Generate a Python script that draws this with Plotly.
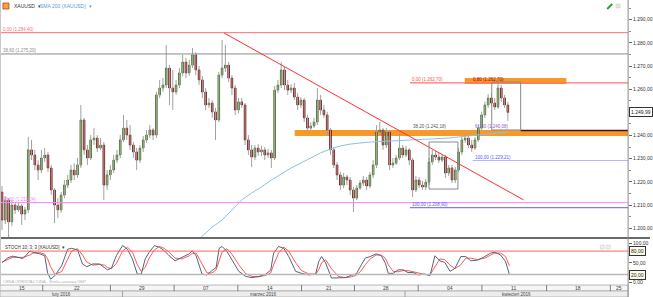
import plotly.graph_objects as go

W, H = 653, 297
PLOT_R = 631  # px, right edge of plotting area

def PX(x):
    return x / W

def PY(y):
    return 1 - y / H

# ---------------- DATA ----------------
first_open = 1215.6
closes = [
    1203.5, 1212.2, 1202.7, 1210.0, 1207.9, 1209.6, 1206.1, 1207.9, 1233.8, 1231.6,
    1227.3, 1225.1, 1230.3, 1231.6, 1226.0, 1216.5, 1210.0, 1207.9, 1214.3, 1218.6,
    1220.8, 1225.1, 1223.0, 1227.3, 1246.7, 1233.8, 1230.3, 1238.1, 1238.9, 1234.6,
    1235.9, 1218.6, 1223.0, 1225.1, 1229.4, 1231.6, 1238.1, 1243.2, 1240.2, 1235.9,
    1232.9, 1229.4, 1234.6, 1238.1, 1240.2, 1242.4, 1240.2, 1257.5, 1260.5, 1261.8,
    1269.1, 1260.5, 1258.8, 1261.8, 1267.0, 1271.7, 1267.0, 1270.4, 1274.8, 1268.3,
    1264.0, 1258.8, 1253.2, 1254.0, 1250.2, 1246.7, 1266.1, 1269.1, 1270.4, 1264.8,
    1260.5, 1251.0, 1254.5, 1253.2, 1238.1, 1233.8, 1230.7, 1234.6, 1232.9, 1233.8,
    1231.6, 1232.5, 1230.3, 1259.6, 1261.8, 1268.3, 1261.8, 1259.6, 1260.5, 1256.6,
    1253.2, 1255.3, 1247.6, 1243.2, 1244.1, 1245.8, 1255.3, 1251.0, 1248.9, 1242.4,
    1233.8, 1227.3, 1223.0, 1218.6, 1222.1, 1220.8, 1216.5, 1213.0, 1217.3, 1219.5,
    1220.8, 1218.2, 1223.0, 1227.3, 1241.5, 1242.4, 1235.9, 1241.5, 1227.3, 1228.1,
    1230.3, 1234.6, 1231.6, 1233.8, 1229.4, 1216.5, 1220.8, 1218.6, 1217.8, 1219.9,
    1228.6, 1231.6, 1230.7, 1229.4, 1230.7, 1223.8, 1226.0, 1220.8, 1225.1, 1232.9,
    1238.1, 1238.9, 1235.9, 1234.6, 1238.1, 1243.2, 1248.9, 1253.2, 1256.2, 1254.0,
    1252.3, 1260.5, 1256.2, 1253.2, 1249.99]
highs = [
    1218.2, 1213.9, 1213.0, 1212.2, 1210.9, 1210.9, 1210.4, 1209.2, 1239.4, 1238.1,
    1233.8, 1229.4, 1233.8, 1234.6, 1232.9, 1227.3, 1217.3, 1213.0, 1215.6, 1220.8,
    1223.0, 1227.3, 1228.1, 1230.3, 1253.2, 1247.6, 1235.9, 1240.2, 1243.2, 1240.2,
    1238.9, 1237.2, 1225.1, 1227.3, 1231.6, 1233.8, 1240.2, 1248.9, 1246.7, 1244.5,
    1237.2, 1234.6, 1235.9, 1239.8, 1242.4, 1244.5, 1243.2, 1258.8, 1264.0, 1264.8,
    1279.1, 1270.4, 1268.3, 1264.0, 1269.1, 1274.8, 1273.5, 1272.6, 1277.8, 1276.0,
    1270.0, 1265.7, 1260.5, 1256.2, 1255.3, 1251.9, 1267.4, 1281.2, 1279.1, 1271.7,
    1266.1, 1261.8, 1256.2, 1256.2, 1254.0, 1240.2, 1235.9, 1235.9, 1236.3, 1235.5,
    1235.0, 1234.2, 1233.8, 1261.4, 1264.0, 1271.7, 1269.6, 1264.0, 1262.2, 1262.7,
    1258.3, 1256.6, 1256.2, 1248.9, 1245.8, 1247.6, 1260.5, 1257.5, 1253.2, 1250.2,
    1243.2, 1235.0, 1228.6, 1224.3, 1223.8, 1223.0, 1222.1, 1217.8, 1218.6, 1220.8,
    1222.5, 1222.1, 1224.3, 1229.4, 1244.5, 1245.8, 1243.2, 1243.2, 1242.4, 1230.3,
    1231.6, 1241.1, 1235.9, 1235.5, 1234.6, 1230.3, 1222.5, 1222.1, 1220.4, 1221.2,
    1230.3, 1233.8, 1233.3, 1232.5, 1232.0, 1231.6, 1227.3, 1227.3, 1226.4, 1234.6,
    1239.4, 1240.2, 1239.8, 1238.1, 1239.4, 1244.5, 1250.2, 1254.5, 1257.9, 1258.3,
    1256.2, 1262.7, 1261.8, 1257.5, 1254.5]
lows = [
    1199.2, 1201.8, 1196.2, 1201.0, 1206.1, 1207.0, 1201.4, 1203.5, 1206.6, 1229.4,
    1225.1, 1220.8, 1223.8, 1228.6, 1224.3, 1214.3, 1202.2, 1204.4, 1206.6, 1213.0,
    1217.3, 1219.5, 1220.8, 1221.7, 1226.0, 1231.6, 1227.3, 1229.4, 1235.9, 1232.9,
    1233.8, 1212.2, 1216.5, 1220.8, 1223.8, 1228.1, 1230.3, 1237.2, 1238.1, 1233.8,
    1230.3, 1225.1, 1228.1, 1232.9, 1236.8, 1238.9, 1238.1, 1238.9, 1256.2, 1258.8,
    1260.5, 1253.2, 1251.0, 1257.5, 1260.5, 1265.7, 1264.8, 1265.7, 1269.1, 1266.1,
    1261.8, 1256.2, 1251.0, 1251.9, 1247.6, 1238.1, 1245.8, 1264.8, 1267.4, 1263.1,
    1257.5, 1248.9, 1249.7, 1251.9, 1235.9, 1231.6, 1226.4, 1229.4, 1231.2, 1231.2,
    1229.4, 1230.3, 1226.0, 1229.4, 1258.3, 1260.5, 1259.6, 1257.5, 1258.3, 1255.3,
    1251.0, 1251.9, 1245.8, 1241.5, 1242.4, 1243.2, 1244.5, 1248.9, 1247.6, 1240.2,
    1231.6, 1226.0, 1220.8, 1216.5, 1217.3, 1218.6, 1214.3, 1207.0, 1212.2, 1216.5,
    1218.2, 1216.5, 1217.3, 1221.7, 1226.0, 1240.2, 1233.8, 1234.6, 1225.1, 1226.0,
    1227.3, 1229.4, 1230.3, 1230.7, 1227.3, 1213.5, 1215.6, 1217.3, 1216.5, 1216.5,
    1218.6, 1227.3, 1229.4, 1228.1, 1228.6, 1221.7, 1222.5, 1219.5, 1219.5, 1224.3,
    1231.6, 1236.8, 1234.6, 1232.9, 1233.8, 1237.2, 1242.4, 1247.6, 1251.9, 1252.7,
    1251.0, 1251.5, 1254.5, 1251.9, 1246.3]
assert len(closes) == len(highs) == len(lows)
opens = [first_open] + closes[:-1]
bars = list(range(len(closes)))

sma_x = [58, 61, 64, 67, 70, 73, 76, 79, 82, 85, 88, 91, 94, 97, 100, 103, 106, 109,
         112, 115, 118, 121, 124, 127, 130, 133, 136, 139, 142, 145, 148, 151, 154]
sma_y = [1192.7, 1196.6, 1200.5, 1203.5, 1207.9, 1212.2, 1215.2, 1217.8, 1220.8, 1223.4,
         1226.0, 1228.1, 1230.3, 1232.5, 1234.2, 1235.5, 1236.3, 1236.8, 1237.2, 1237.4,
         1237.6, 1237.9, 1238.1, 1238.3, 1238.5, 1238.7, 1238.9, 1239.4, 1239.8, 1240.2,
         1240.6, 1241.1, 1241.5]

stoch_x = [0, 1.8, 3.3, 6.4, 8.5, 9.4, 11.5, 13.0, 13.9, 14.8, 16.1, 18.2, 20, 21.2, 23,
           24.5, 25.8, 27.6, 29.7, 31.2, 32.1, 33.3, 34.8, 36.7, 38.2, 39.7, 41.2, 42.4,
           43.6, 44.8, 46.4, 47.9, 49.4, 50.9, 52.7, 54.8, 57, 57.9, 59.1, 60.9, 62.4,
           63.9, 65.2, 66.1, 67, 68.5, 70, 72.1, 74.2, 76.1, 78.2, 80.3, 81.8, 82.7, 84.2,
           85.8, 87.3, 89.4, 91.2, 93.3, 95.5, 96.4, 97.3, 98.5, 100.3, 102.4, 104.5,
           106.4, 107.9, 109.4, 110.6, 112.1, 113.9, 115.5, 116.7, 117.6, 119.1, 120.6,
           122.1, 123.6, 125.2, 126.7, 128.8, 130.3, 131.8, 133.3, 134.8, 136.4, 137.9,
           139.7, 141.2, 142.7, 144.8, 147, 148.8, 150, 151.8, 153.3, 154.5]
stoch_k = [50, 63, 67, 61, 80, 77, 73, 68, 24, 8, 17, 43, 85, 87, 83,
           47, 40, 47, 47, 38, 32, 36, 68, 94, 85, 60, 21, 21,
           60, 77, 94, 90, 81, 68, 55, 64, 73, 81, 68, 21, 19,
           30, 38, 87, 92, 79, 58, 28, 15, 12, 15, 21, 31, 75, 92,
           87, 66, 28, 23, 19, 21, 53, 66, 50, 11, 11, 12,
           18, 22, 45, 62, 66, 73, 68, 49, 23, 23, 32,
           32, 25, 25, 19, 21, 17, 68, 55, 51, 28, 36,
           66, 66, 55, 57, 66, 75, 77, 70, 53, 19]
stoch_d = [52, 58, 64, 64, 70, 75, 76, 72, 60, 40, 20, 28, 60, 80, 86,
           70, 52, 44, 46, 44, 38, 35, 48, 80, 90, 78, 45, 28,
           38, 62, 83, 92, 87, 77, 62, 60, 68, 74, 75, 45, 24,
           24, 32, 55, 78, 86, 72, 45, 22, 15, 14, 18, 24, 45, 75,
           90, 80, 50, 30, 22, 20, 32, 50, 58, 35, 15, 12,
           14, 18, 30, 45, 60, 70, 70, 62, 45, 28, 27,
           30, 30, 27, 23, 20, 19, 40, 60, 58, 44, 35,
           45, 62, 62, 58, 62, 70, 75, 75, 66, 42]

price_ticks = [1200, 1210, 1220, 1230, 1240, 1260, 1270, 1280, 1290]
week_labels = ["15", "22", "29", "07", "14", "21", "28", "04", "11", "18", "25"]
week_label_pos = [6.1, 22.7, 42.7, 62.1, 81.5, 99.4, 117.0, 136.4, 155.8, 175.5, 187.9]
week_bounds = [12.4, 33.0, 52.4, 71.8, 91.2, 107.3, 126.7, 146.1, 165.8, 185.2]
month_labels = ["luty 2016", "marzec 2016", "kwiecień 2016"]
month_bounds = [36.7, 122.7]

# drawing tools (levels, trend line, boxes)
trend_line = dict(x0=67.6, y0=1284.25, x1=158.8, y1=1212.2)
fib_full = [  # (price, color, label)
    (1284.40, "#ff7070", "0,00 (1.284,40)"),
    (1275.20, "#8c8c8c", "38,60 (1.275,20)"),
    (1211.04, "#ff80ff", "38,60 (1.211,04)"),
]
fib_right = [  # (price, start bar, color, label, label color)
    (1262.70, 124.2, "#ff7070", "0,00 (1.262,70)", "#ff5050"),
    (1229.21, 143.3, "#b4b4ff", "100,00 (1.229,21)", "#5a5aff"),
    (1208.90, 124.2, "#7c7cff", "100,00 (1.208,90)", "#5a5aff"),
]
orange_zone = dict(x0=89.1, y0=1239.8, y1=1242.4)
orange_top = dict(x0=140.9, x1=171.8, y0=1262.2, y1=1264.8)
dark_level = dict(x0=157.9, y=1242.2)
boxes = [dict(x0=130.0, x1=138.8, y0=1216.9, y1=1237.2),
         dict(x0=149.1, x1=157.9, y0=1242.4, y1=1263.1)]
last_price = 1249.99

XMIN, XMAX = -0.606, 190.606
YMIN, YMAX = 1195.77, 1298.49
SMIN, SMAX = -6.9, 111.0

FONT = "Liberation Sans"

# ---------------- FIGURE ----------------
fig = go.Figure()

wx, wy = [], []
for i, (h, l) in enumerate(zip(highs, lows)):
    wx += [i, i, None]
    wy += [l, h, None]
fig.add_trace(go.Scatter(x=wx, y=wy, mode="lines", line=dict(color="#a0a0a0", width=1),
                         hoverinfo="skip", showlegend=False, xaxis="x", yaxis="y"))

body_hi = [max(o, c) for o, c in zip(opens, closes)]
body_lo = [min(o, c) for o, c in zip(opens, closes)]
fig.add_trace(go.Candlestick(
    x=bars, open=opens, high=body_hi, low=body_lo, close=closes,
    increasing=dict(line=dict(color="#2e5a12", width=0.8), fillcolor="#86c046"),
    decreasing=dict(line=dict(color="#5a0000", width=0.8), fillcolor="#e00000"),
    showlegend=False, xaxis="x", yaxis="y"))

fig.add_trace(go.Scatter(x=sma_x, y=sma_y, mode="lines", line=dict(color="#8fbfe6", width=1),
                         hoverinfo="skip", showlegend=False, xaxis="x", yaxis="y"))

fig.add_trace(go.Scatter(x=stoch_x, y=stoch_d, mode="lines", line=dict(color="#ff5a5a", width=1),
                         showlegend=False, xaxis="x2", yaxis="y2"))
fig.add_trace(go.Scatter(x=stoch_x, y=stoch_k, mode="lines", line=dict(color="#56647a", width=1),
                         showlegend=False, xaxis="x2", yaxis="y2"))

shapes = []
ann = []

# fib / horizontal levels
for p, col, lab in fib_full:
    shapes.append(dict(type="line", xref="x", yref="y", x0=XMIN, x1=XMAX, y0=p, y1=p,
                       line=dict(color=col, width=1)))
    ann.append(dict(xref="paper", yref="y", x=PX(1), y=p, yshift=3, text=lab, showarrow=False,
                    xanchor="left", yanchor="middle", font=dict(size=4.5, color=col, family=FONT)))

shapes.append(dict(type="rect", xref="x", yref="y", x0=orange_zone["x0"], x1=XMAX,
                   y0=orange_zone["y0"], y1=orange_zone["y1"], fillcolor="#f7941d",
                   line=dict(width=0), opacity=0.95, layer="below"))
shapes.append(dict(type="line", xref="x", yref="y", x0=dark_level["x0"], x1=XMAX,
                   y0=dark_level["y"], y1=dark_level["y"], line=dict(color="#4a1010", width=1.5)))
shapes.append(dict(type="rect", xref="x", yref="y", x0=orange_top["x0"], x1=orange_top["x1"],
                   y0=orange_top["y0"], y1=orange_top["y1"], fillcolor="#f7941d",
                   line=dict(width=0), opacity=0.95, layer="below"))

for p, x0, col, lab, lcol in fib_right:
    shapes.append(dict(type="line", xref="x", yref="y", x0=x0, x1=XMAX, y0=p, y1=p,
                       line=dict(color=col, width=1.2)))
    ann.append(dict(xref="x", yref="y", x=x0, y=p, yshift=3, text=lab, showarrow=False,
                    xanchor="left", yanchor="middle", font=dict(size=4.5, color=lcol, family=FONT)))

ann.append(dict(xref="x", yref="y", x=142.8, y=1262.7, yshift=3, text="0,80 (1.262,70)",
                showarrow=False, xanchor="left", yanchor="middle",
                font=dict(size=4.5, color="#b00000", family=FONT)))
ann.append(dict(xref="x", yref="y", x=124.5, y=1242.4, yshift=3, text="38,20 (1.242,18)",
                showarrow=False, xanchor="left", yanchor="middle",
                font=dict(size=4.5, color="#555555", family=FONT)))
ann.append(dict(xref="x", yref="y", x=143.3, y=1242.4, yshift=3, text="61,80 (1.240,08)",
                showarrow=False, xanchor="left", yanchor="middle",
                font=dict(size=4.5, color="#8a5cc0", family=FONT)))

# trend line
shapes.append(dict(type="line", xref="x", yref="y", line=dict(color="#ff3030", width=1), **trend_line))

# boxes
for b in boxes:
    shapes.append(dict(type="rect", xref="x", yref="y", line=dict(color="#8a8a8a", width=1),
                       fillcolor="rgba(0,0,0,0)", **b))

# stochastic levels
shapes.append(dict(type="line", xref="x2", yref="y2", x0=XMIN, x1=XMAX, y0=80, y1=80,
                   line=dict(color="#ff6060", width=1)))
shapes.append(dict(type="line", xref="x2", yref="y2", x0=XMIN, x1=XMAX, y0=20, y1=20,
                   line=dict(color="#b8b8b8", width=1.5)))

# panel separator and axis line
shapes.append(dict(type="line", xref="paper", yref="paper", x0=0, x1=PX(W), y0=PY(238), y1=PY(238),
                   line=dict(color="#6a6a6a", width=2)))
shapes.append(dict(type="line", xref="paper", yref="paper", x0=PX(PLOT_R), x1=PX(PLOT_R),
                   y0=PY(0), y1=PY(297), line=dict(color="#8a8a8a", width=1)))
shapes.append(dict(type="line", xref="paper", yref="paper", x0=PX(0.5), x1=PX(0.5),
                   y0=PY(0), y1=PY(285), line=dict(color="#c8c8c8", width=1)))

# date rows
shapes.append(dict(type="rect", xref="paper", yref="paper", x0=0, x1=PX(PLOT_R), y0=PY(291), y1=PY(285),
                   fillcolor="#f6f6f6", line=dict(color="#a8a8a8", width=0.8), layer="below"))
shapes.append(dict(type="rect", xref="paper", yref="paper", x0=0, x1=PX(PLOT_R), y0=PY(297), y1=PY(291),
                   fillcolor="#ededed", line=dict(color="#a8a8a8", width=0.8), layer="below"))
for wb in week_bounds:
    shapes.append(dict(type="line", xref="x2", yref="paper", x0=wb, x1=wb, y0=PY(291), y1=PY(285),
                       line=dict(color="#606060", width=0.8)))
for mb in month_bounds:
    shapes.append(dict(type="line", xref="x2", yref="paper", x0=mb, x1=mb, y0=PY(297), y1=PY(291),
                       line=dict(color="#909090", width=0.8)))
for lab, pos in zip(week_labels, week_label_pos):
    ann.append(dict(xref="x2", yref="paper", x=pos, y=PY(288), text=lab, showarrow=False,
                    xanchor="center", yanchor="middle", font=dict(size=5, color="#444", family=FONT)))
edges = [XMIN] + month_bounds + [XMAX]
for k, lab in enumerate(month_labels):
    ann.append(dict(xref="x2", yref="paper", x=(edges[k] + edges[k + 1]) / 2, y=PY(294), text=lab,
                    showarrow=False, xanchor="center", yanchor="middle",
                    font=dict(size=4.5, color="#444", family=FONT)))

# headers
shapes.append(dict(type="rect", xref="paper", yref="paper", x0=PX(3), x1=PX(9), y0=PY(9), y1=PY(3),
                   fillcolor="#f2a93b", line=dict(color="#c0392b", width=0.8)))
ann.append(dict(xref="paper", yref="paper", x=PX(12), y=PY(6), text="XAUUSD  ▾", showarrow=False,
                xanchor="left", yanchor="middle", font=dict(size=5, color="#333", family=FONT)))
ann.append(dict(xref="paper", yref="paper", x=PX(38), y=PY(6), text="SMA 200 (XAUUSD)  ▾",
                showarrow=False, xanchor="left", yanchor="middle",
                font=dict(size=5, color="#5b9bd5", family=FONT)))
shapes.append(dict(type="line", xref="paper", yref="paper", x0=PX(610), x1=PX(615), y0=PY(9), y1=PY(4),
                   line=dict(color="#2e9e2e", width=2)))
shapes.append(dict(type="rect", xref="paper", yref="paper", x0=PX(619), x1=PX(623), y0=PY(8), y1=PY(4),
                   fillcolor="#e6e6e6", line=dict(color="#c8c8c8", width=0.5)))
ann.append(dict(xref="paper", yref="paper", x=PX(3), y=PY(247), text="STOCH 10; 3; 3 [XAUUSD]  ▾",
                showarrow=False, xanchor="left", yanchor="middle",
                font=dict(size=4.5, color="#333", family=FONT)))
ann.append(dict(xref="paper", yref="paper", x=PX(1), y=PY(281),
                text="CENA ORIENTACYJNA - Strefa czasowa GMT", showarrow=False,
                xanchor="left", yanchor="middle", font=dict(size=4, color="#b0b0b0", family=FONT)))
for xx in (603, 609):
    shapes.append(dict(type="rect", xref="paper", yref="paper", x0=PX(xx), x1=PX(xx + 4),
                       y0=PY(249), y1=PY(245), fillcolor="#f0f0f0", line=dict(color="#c8c8c8", width=0.5)))

# boxed values on right axis
box_font = dict(size=5, color="#222", family=FONT)
ann.append(dict(xref="paper", yref="y", x=PX(PLOT_R + 0.5), y=last_price, text="1.249,99",
                showarrow=False, xanchor="left", yanchor="middle", bgcolor="white",
                bordercolor="#333", borderwidth=1, borderpad=1, font=box_font))
for v, t in ((80, "80,00"), (20, "20,00")):
    ann.append(dict(xref="paper", yref="y2", x=PX(PLOT_R + 0.5), y=v, text=t, showarrow=False,
                    xanchor="left", yanchor="middle", bgcolor="#fffde8",
                    bordercolor="#333", borderwidth=1, borderpad=1, font=box_font))

tickfont = dict(size=5, color="#333", family=FONT)
fig.update_layout(
    width=W, height=H, margin=dict(l=0, r=0, t=0, b=0),
    paper_bgcolor="white", plot_bgcolor="white",
    separators=",.",
    showlegend=False,
    shapes=shapes, annotations=ann,
    xaxis=dict(domain=[0, PX(PLOT_R)], range=[XMIN, XMAX], anchor="y", showgrid=False,
               zeroline=False, showticklabels=False, rangeslider=dict(visible=False), fixedrange=True),
    xaxis2=dict(domain=[0, PX(PLOT_R)], range=[XMIN, XMAX], anchor="y2", matches="x",
                showgrid=False, zeroline=False, showticklabels=False),
    yaxis=dict(domain=[PY(238), 1], range=[YMIN, YMAX], side="right", anchor="x",
               tickmode="array", tickvals=price_ticks, tickformat=",.2f",
               ticks="outside", ticklen=3, tickcolor="#666", showgrid=False, zeroline=False,
               showline=False, tickfont=tickfont,
               minor=dict(tickmode="linear", tick0=1195, dtick=5, ticks="outside", ticklen=2,
                          tickcolor="#888")),
    yaxis2=dict(domain=[PY(285), PY(239)], range=[SMIN, SMAX], side="right", anchor="x2",
                tickvals=[0, 50, 100], tickformat=",.2f", ticks="outside", ticklen=3,
                tickcolor="#666", showgrid=False, zeroline=False, showline=False, tickfont=tickfont),
)

fig.write_html("out.html")
